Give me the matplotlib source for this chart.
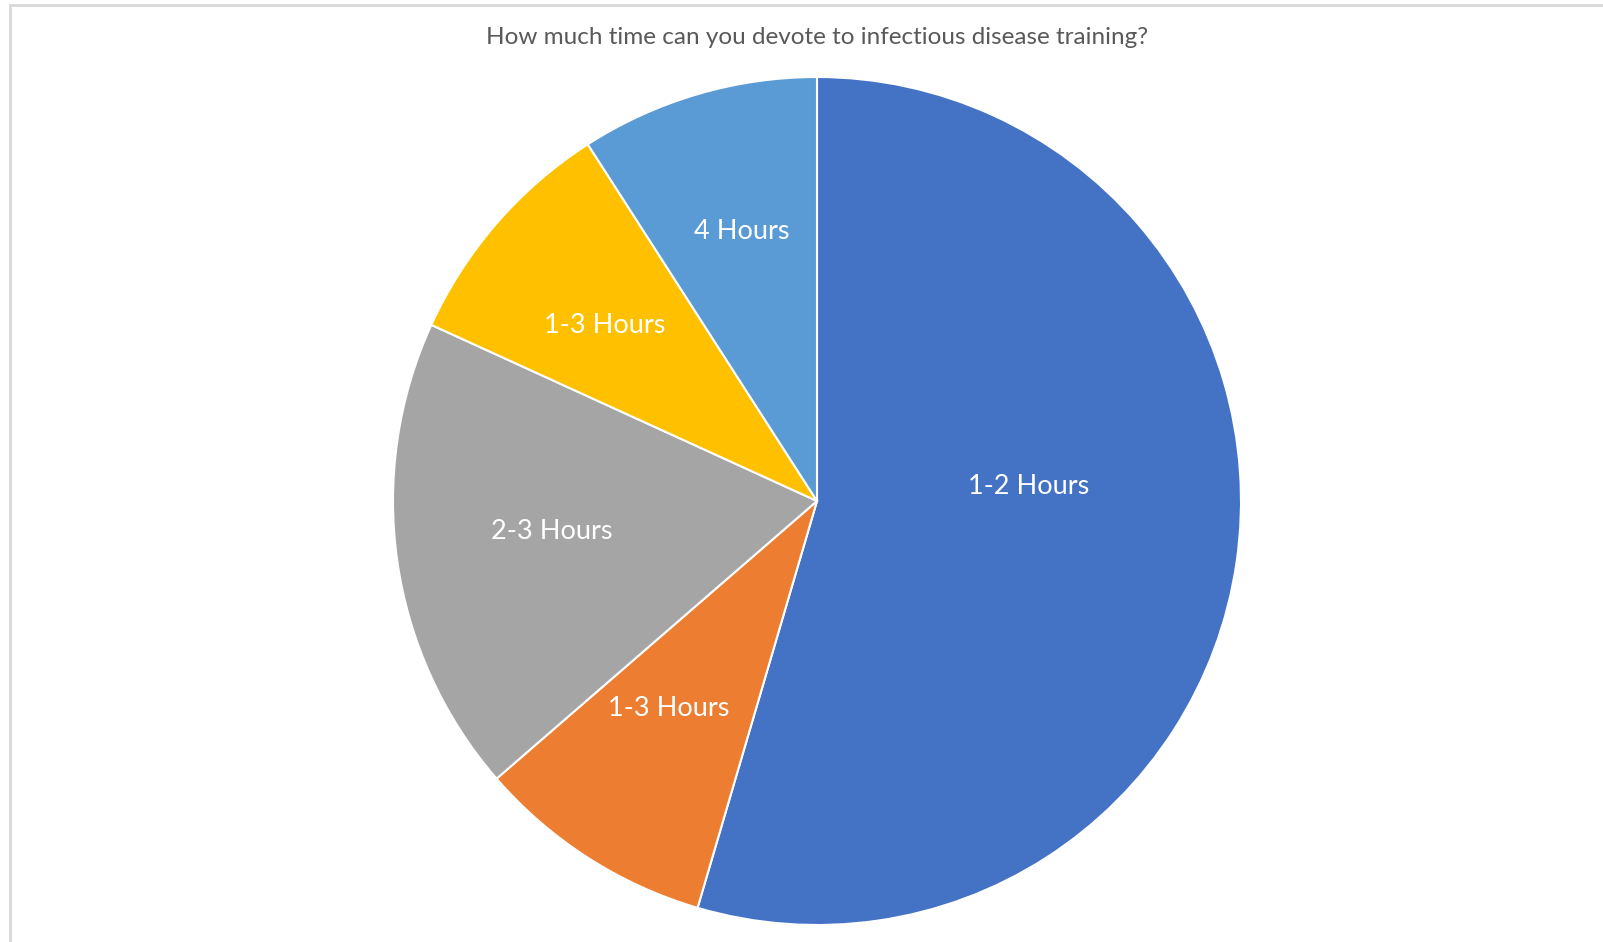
import matplotlib
matplotlib.use("Agg")
import matplotlib.pyplot as plt
import numpy as np

title = "How much time can you devote to infectious disease training?"
labels = ["1-2 Hours", "1-3 Hours", "2-3 Hours", "1-3 Hours", "4 Hours"]
values = [6, 1, 2, 1, 1]
colors = ["#4472C4", "#ED7D31", "#A5A5A5", "#FFC000", "#5B9BD5"]

# label placement (fraction of radius, angular offset in degrees, clockwise)
label_r = [0.50, 0.60, 0.63, 0.65, 0.66]
label_da = [-12.0, 2.8, 1.6, -1.3, 0.7]

plt.rcParams['font.family'] = ['Lato', 'DejaVu Sans']

W, H = 1603, 942
fig = plt.figure(figsize=(W / 100, H / 100), dpi=100)
fig.patch.set_facecolor("white")

# chart-area border (light gray), top and left visible
fig.add_artist(plt.Line2D([10 / W, 1.0], [1 - 5 / H, 1 - 5 / H], color="#D9D9D9", lw=2, transform=fig.transFigure))
fig.add_artist(plt.Line2D([10 / W, 10 / W], [0, 1 - 5 / H], color="#D9D9D9", lw=2, transform=fig.transFigure))

cx, cy, R = 817, 501, 424
ax = fig.add_axes([(cx - R) / W, (H - cy - R) / H, 2 * R / W, 2 * R / H])
wedges, _ = ax.pie(values, colors=colors, startangle=90, counterclock=False,
                   radius=1.0, wedgeprops=dict(edgecolor="white", linewidth=1.5))
ax.set_xlim(-1, 1)
ax.set_ylim(-1, 1)
ax.set_aspect("equal")
ax.axis("off")

total = sum(values)
cum = 0.0
for lab, v, r, da in zip(labels, values, label_r, label_da):
    mid = (cum + v / 2) / total * 360.0 + da  # clockwise bearing from top
    cum += v
    th = np.deg2rad(mid)
    ax.text(r * np.sin(th), r * np.cos(th), lab, ha="center", va="center",
            color="white", fontsize=19.5)

fig.text(cx / W, 1 - 38 / H, title, ha="center", va="center", color="#595959", fontsize=17.5)

fig.savefig("out.png", dpi=100, facecolor="white")
